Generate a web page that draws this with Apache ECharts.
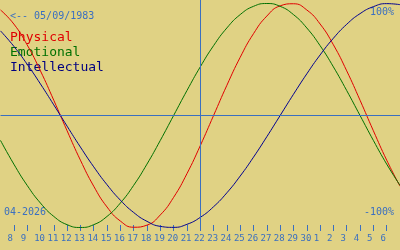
<!DOCTYPE html>
<html><head><meta charset="utf-8">
<script src="https://cdn.jsdelivr.net/npm/echarts@6/dist/echarts.min.js"></script>
<style>html,body{margin:0;padding:0;background:#e0d284;}#c{width:400px;height:250px;}</style>
</head><body><div id="c"></div>
<script>
// day positions (April 7 .. May 7, 2026)
const days = ['7','8','9','10','11','12','13','14','15','16','17','18','19','20','21','22','23','24','25','26','27','28','29','30','31','32','33','34','35','36','37'];
const tickLabels = ['','8','9','10','11','12','13','14','15','16','17','18','19','20','21','22','23','24','25','26','27','28','29','30','1','2','3','4','5','6',''];
const today = '22';
const physical = [0.9423,0.8170,0.6311,0.3984,0.1362,-0.1362,-0.3984,-0.6311,-0.8170,-0.9423,-0.9977,-0.9791,-0.8879,-0.7308,-0.5196,-0.2698,0,0.2698,0.5196,0.7308,0.8879,0.9791,0.9977,0.9423,0.8170,0.6311,0.3984,0.1362,-0.1362,-0.3984,-0.6311];
const emotional = [-0.2225,-0.4339,-0.6235,-0.7818,-0.9010,-0.9749,-1,-0.9749,-0.9010,-0.7818,-0.6235,-0.4339,-0.2225,0,0.2225,0.4339,0.6235,0.7818,0.9010,0.9749,1,0.9749,0.9010,0.7818,0.6235,0.4339,0.2225,0,-0.2225,-0.4339,-0.6235];
const intellectual = [0.7557,0.6182,0.4582,0.2817,0.0951,-0.0951,-0.2817,-0.4582,-0.6182,-0.7557,-0.8660,-0.9450,-0.9898,-0.9989,-0.9718,-0.9096,-0.8146,-0.6901,-0.5406,-0.3717,-0.1893,0,0.1893,0.3717,0.5406,0.6901,0.8146,0.9096,0.9718,0.9989,0.9898];

const BLUE = '#3a6fc0';
const MONO = 'DejaVu Sans Mono';
const chart = echarts.init(document.getElementById('c'), null, {renderer: 'canvas'});
const showIdx = (i) => i > 0 && i < days.length - 1;

chart.setOption({
  animation: false,
  backgroundColor: '#e0d284',
  grid: {left: 0.5, right: -0.5, top: 0, height: 231},
  xAxis: {type: 'category', data: days, boundaryGap: false,
    axisLine: {show: false, onZero: false}, splitLine: {show: false},
    axisTick: {show: true, inside: true, length: 6, interval: showIdx, lineStyle: {color: BLUE, width: 1}},
    axisLabel: {show: true, interval: showIdx, align: 'center', margin: 3,
      formatter: (v, i) => '{d|' + tickLabels[i] + '}',
      rich: {d: {width: 12.6, align: 'left', color: BLUE, fontFamily: MONO, fontSize: 9}}}},
  yAxis: {type: 'value', min: -1.0313, max: 1.0313, show: false},
  series: [
    {name: 'Physical', type: 'line', data: physical, smooth: true, showSymbol: false,
     lineStyle: {color: '#e00000', width: 1}, itemStyle: {color: '#e00000'},
     markLine: {silent: true, symbol: 'none', label: {show: false},
       lineStyle: {color: BLUE, width: 1, type: 'solid'},
       data: [{xAxis: today}, {yAxis: 0}]}},
    {name: 'Emotional', type: 'line', data: emotional, smooth: true, showSymbol: false,
     lineStyle: {color: '#007000', width: 1}, itemStyle: {color: '#007000'}},
    {name: 'Intellectual', type: 'line', data: intellectual, smooth: true, showSymbol: false,
     lineStyle: {color: '#000090', width: 1}, itemStyle: {color: '#000090'}}
  ],
  graphic: [
    {type: 'text', left: 10, top: 11, style: {text: '<-- 05/09/1983', fill: BLUE, font: '10px "DejaVu Sans Mono"'}},
    {type: 'text', left: 10, top: 31, style: {text: 'Physical', fill: '#e00000', font: '13px "DejaVu Sans Mono"'}},
    {type: 'text', left: 10, top: 46, style: {text: 'Emotional', fill: '#007000', font: '13px "DejaVu Sans Mono"'}},
    {type: 'text', left: 10, top: 61, style: {text: 'Intellectual', fill: '#000080', font: '13px "DejaVu Sans Mono"'}},
    {type: 'text', right: 6, top: 7, style: {text: '100%', fill: BLUE, font: '10px "DejaVu Sans Mono"'}},
    {type: 'text', right: 6, top: 207, style: {text: '-100%', fill: BLUE, font: '10px "DejaVu Sans Mono"'}},
    {type: 'text', left: 4, top: 207, style: {text: '04-2026', fill: BLUE, font: '10px "DejaVu Sans Mono"'}}
  ]
});
</script>
</body></html>
